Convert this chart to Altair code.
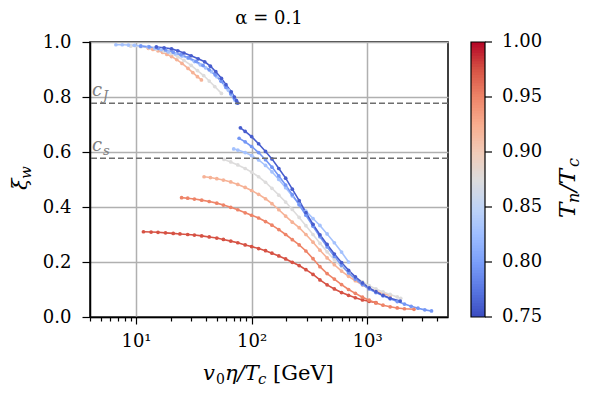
import altair as alt
import pandas as pd

# ---------------- data ----------------
# lower (detonation / hybrid) branch
dr_x = [11.6, 13.5, 15.5, 18, 21, 24, 28, 32, 37, 43, 50, 57, 66, 76, 88, 100, 115, 132, 150, 172,
        197, 225, 258, 295, 340, 390, 450, 520, 600, 690, 790, 910, 1040, 1190]
dr_y = [0.310, 0.309, 0.308, 0.306, 0.304, 0.302, 0.300, 0.298, 0.295, 0.291, 0.287, 0.282, 0.276,
        0.270, 0.262, 0.256, 0.249, 0.241, 0.232, 0.222, 0.211, 0.199, 0.187, 0.172, 0.155, 0.135,
        0.117, 0.102, 0.089, 0.079, 0.070, 0.062, 0.057, 0.052]
sa_x = [24.8, 28, 32, 37, 43, 50, 57, 66, 76, 88, 100, 115, 132, 150, 172, 197, 225, 258, 295, 340,
        390, 450, 520, 600, 690, 790, 910, 1040, 1190, 1370, 1580, 1820, 2100, 2540]
sa_y = [0.434, 0.432, 0.429, 0.425, 0.420, 0.414, 0.407, 0.399, 0.390, 0.379, 0.370, 0.360, 0.347,
        0.334, 0.318, 0.300, 0.281, 0.262, 0.240, 0.212, 0.183, 0.158, 0.138, 0.118, 0.100, 0.086,
        0.072, 0.061, 0.051, 0.043, 0.037, 0.033, 0.030, 0.028]
ls_x = [38.8, 44, 50, 57, 66, 76, 88, 100, 115, 132, 150, 172, 197, 225, 258, 295, 340, 390, 450, 520,
        600, 690, 790, 910, 1040, 1190, 1370, 1580]
ls_y = [0.510, 0.507, 0.503, 0.498, 0.491, 0.482, 0.471, 0.460, 0.446, 0.430, 0.412, 0.390, 0.367,
        0.345, 0.325, 0.300, 0.272, 0.243, 0.215, 0.190, 0.167, 0.148, 0.132, 0.117, 0.104, 0.094,
        0.085, 0.078]
gr_x = [57.7, 66, 76, 88, 100, 115, 132, 150, 172, 197, 225, 258, 295, 340, 390, 450, 520, 600, 690,
        790, 910, 1040, 1190, 1370, 1580, 1820, 1950]
gr_y = [0.573, 0.564, 0.553, 0.540, 0.527, 0.510, 0.490, 0.468, 0.443, 0.418, 0.391, 0.362, 0.332,
        0.300, 0.268, 0.237, 0.208, 0.183, 0.162, 0.144, 0.128, 0.114, 0.102, 0.091, 0.082, 0.073, 0.068]
lb_x = [70, 76, 88, 100, 115, 132, 150, 172, 197, 225, 258, 295, 340, 390, 450, 520, 600, 690]
lb_y = [0.611, 0.607, 0.598, 0.587, 0.571, 0.551, 0.528, 0.500, 0.470, 0.440, 0.410, 0.385, 0.358,
        0.333, 0.302, 0.270, 0.236, 0.200]
mb_x = [78, 88, 100, 115, 132, 150, 172, 197, 225, 258, 295, 340, 390, 450, 520, 600, 690, 790, 910,
        1040, 1190, 1370, 1580, 1820, 2100, 2400, 2750, 3150, 3600]
mb_y = [0.650, 0.637, 0.620, 0.598, 0.572, 0.545, 0.513, 0.480, 0.445, 0.408, 0.370, 0.330, 0.292,
        0.255, 0.220, 0.188, 0.160, 0.138, 0.118, 0.102, 0.089, 0.077, 0.066, 0.056, 0.047, 0.039,
        0.032, 0.026, 0.022]
db_x = [80, 88, 100, 115, 132, 150, 172, 197, 225, 258, 295, 340, 390, 450, 520, 600, 690, 790, 910,
        1040, 1190, 1370, 1580, 1930]
db_y = [0.688, 0.675, 0.656, 0.630, 0.602, 0.575, 0.540, 0.505, 0.465, 0.423, 0.380, 0.337, 0.299,
        0.264, 0.229, 0.198, 0.170, 0.146, 0.124, 0.106, 0.092, 0.079, 0.068, 0.058]
# upper (deflagration) branch
u_ls_x = [12.8, 14, 15.5, 17, 18.5, 20.3, 22.5, 25, 28.2, 31, 34, 36.8]
u_ls_y = [0.977, 0.973, 0.968, 0.962, 0.955, 0.947, 0.936, 0.922, 0.904, 0.889, 0.874, 0.862]
u_gr_x = [9, 11, 13, 15, 17.5, 20, 23, 26, 30, 34, 38.5, 43, 48, 54.8]
u_gr_y = [0.985, 0.983, 0.979, 0.974, 0.966, 0.958, 0.946, 0.933, 0.915, 0.896, 0.878, 0.858, 0.838, 0.813]
u_lb_x = [6.7, 7.6, 8.6, 9.7, 11, 12.8, 14.5, 16.5, 19, 22, 25, 28.2, 32, 36, 40, 45, 50, 54, 58.5,
          63, 67, 71.5, 74]
u_lb_y = [0.990, 0.990, 0.989, 0.988, 0.986, 0.983, 0.978, 0.972, 0.964, 0.957, 0.949, 0.941, 0.929,
          0.917, 0.906, 0.892, 0.874, 0.860, 0.844, 0.825, 0.807, 0.789, 0.778]
u_mb_x = [11, 13, 15.5, 18, 21, 24.5, 28.5, 33, 38, 43, 48.5, 54.5, 60, 66, 71, 75]
u_mb_y = [0.985, 0.982, 0.977, 0.971, 0.963, 0.954, 0.943, 0.930, 0.915, 0.899, 0.880, 0.857, 0.835,
          0.812, 0.795, 0.780]
u_db_x = [15, 17.5, 20.3, 23, 26, 30, 34.5, 39.3, 44, 49, 54.8, 60, 66.7, 71, 74, 76]
u_db_y = [0.982, 0.979, 0.975, 0.968, 0.960, 0.950, 0.939, 0.928, 0.912, 0.892, 0.868, 0.845, 0.819,
          0.800, 0.787, 0.778]

# Tn/Tc of each curve
curves = [
    ("lo_0.975", 0.975, dr_x, dr_y),
    ("lo_0.95", 0.95, sa_x, sa_y),
    ("lo_0.92", 0.92, ls_x, ls_y),
    ("up_0.92", 0.92, u_ls_x, u_ls_y),
    ("lo_0.875", 0.875, gr_x, gr_y),
    ("up_0.875", 0.875, u_gr_x, u_gr_y),
    ("lo_0.83", 0.83, lb_x, lb_y),
    ("up_0.83", 0.83, u_lb_x, u_lb_y),
    ("lo_0.795", 0.795, mb_x, mb_y),
    ("up_0.795", 0.795, u_mb_x, u_mb_y),
    ("lo_0.76", 0.76, db_x, db_y),
    ("up_0.76", 0.76, u_db_x, u_db_y),
]

speed_vals = [0.777, 0.577]          # c_J, c_s
speed_main = ["c", "c"]
speed_sub = ["J", "s"]

x_major = [10, 100, 1000]
x_ticks = [4, 5, 6, 7, 8, 9, 10, 20, 30, 40, 50, 60, 70, 80, 90, 100, 200, 300, 400, 500, 600, 700,
           800, 900, 1000, 2000, 3000, 4000]
y_ticks = [0.0, 0.2, 0.4, 0.6, 0.8, 1.0]
cbar_ticks = [0.75, 0.80, 0.85, 0.90, 0.95, 1.00]
cbar_labels = ["0.75", "0.80", "0.85", "0.90", "0.95", "1.00"]
coolwarm = ["#3b4cc0", "#5977e3", "#7b9ff9", "#9ebeff", "#c0d4f5", "#dddcdc",
            "#f2cbb7", "#f7ac8e", "#ee8468", "#d65244", "#b40426"]
TN_MIN, TN_MAX = 0.75, 1.0

title_text = ["α = 0.1"]
xtitle_parts = ["v", "0", "η/T", "c", "[GeV]"]
ytitle_parts = ["ξ", "w"]
ctitle_parts = ["T", "n", "/T", "c"]

FONT = "DejaVu Serif"
W, H = 358, 275
CB_X0, CB_W = W + 23, 14

rows = []
for name, tn, xs, ys in curves:
    for i, (a, b) in enumerate(zip(xs, ys)):
        rows.append({"curve": name, "Tn": tn, "x": a, "xi": b, "i": i})
df = pd.DataFrame(rows)

major_test = " || ".join(f"datum.value == {m}" for m in x_major)

x_enc = alt.X(
    "x:Q",
    scale=alt.Scale(type="log", domain=[4, 5000], nice=False),
    axis=alt.Axis(
        values=x_ticks, title=None,
        labelExpr="datum.value == 10 ? '10¹' : datum.value == 100 ? '10²' : datum.value == 1000 ? '10³' : ''",
        tickSize={"condition": {"test": major_test, "value": 7}, "value": 4},
        gridOpacity={"condition": {"test": major_test, "value": 1}, "value": 0},
        labelFont=FONT, labelFontSize=18, labelColor="black", labelPadding=8,
        labelFlush=False, labelOverlap=False,
        tickColor="black", tickWidth=1.2, domainColor="black", domainWidth=1.5,
        gridColor="#b0b0b0", gridWidth=1.5,
    ),
)
y_enc = alt.Y(
    "xi:Q",
    scale=alt.Scale(domain=[0, 1], nice=False),
    axis=alt.Axis(
        values=y_ticks, format=".1f", title=None,
        labelFont=FONT, labelFontSize=18, labelColor="black", labelPadding=11,
        tickSize=8, tickColor="black", tickWidth=1.2, domainColor="black", domainWidth=1.5,
        gridColor="#b0b0b0", gridWidth=1.5,
    ),
)
color_scale = alt.Scale(domain=[TN_MIN, TN_MAX], range=coolwarm, interpolate="rgb")

lines = alt.Chart(df).mark_line(strokeWidth=1.6).encode(
    x=x_enc, y=y_enc,
    color=alt.Color("Tn:Q", scale=color_scale, legend=None),
    detail="curve:N", order="i:Q",
)
points = alt.Chart(df).mark_circle(size=14, opacity=1).encode(
    x="x:Q", y="xi:Q", color=alt.Color("Tn:Q", scale=color_scale, legend=None)
)

speed_df = pd.DataFrame({"v": speed_vals, "m": speed_main, "s": speed_sub})
rules = alt.Chart(speed_df).mark_rule(
    color="#6e6e6e", strokeWidth=1.5, strokeDash=[6, 3]
).encode(y="v:Q")
lab_main = alt.Chart(speed_df).mark_text(
    font=FONT, fontSize=18, fontStyle="italic", color="#808080", align="left", dy=-7, baseline="alphabetic"
).encode(y="v:Q", x=alt.value(2), text="m:N")
lab_sub = alt.Chart(speed_df).mark_text(
    font=FONT, fontSize=13, fontStyle="italic", color="#808080", align="left", dy=-3, baseline="alphabetic"
).encode(y="v:Q", x=alt.value(13), text="s:N")

# ---- colour bar (drawn with the same colour scale) ----
STEP = 0.0025
cb_strip = alt.Chart(alt.sequence(TN_MIN, TN_MAX - STEP / 2, STEP, as_="t")).transform_calculate(
    p=f"(datum.t - {TN_MIN}) / ({TN_MAX} - {TN_MIN})",
    p2=f"min(1, (datum.t + {STEP} * 1.6 - {TN_MIN}) / ({TN_MAX} - {TN_MIN}))",
    c=f"datum.t + {STEP} / 2",
).mark_rect(strokeWidth=0).encode(
    x=alt.value(CB_X0), x2=alt.value(CB_X0 + CB_W), y="p:Q", y2="p2:Q",
    color=alt.Color("c:Q", scale=color_scale, legend=None),
)
cb_frame = alt.Chart(pd.DataFrame({"a": [0]})).mark_rect(
    fillOpacity=0, stroke="black", strokeWidth=1.2
).encode(x=alt.value(CB_X0), x2=alt.value(CB_X0 + CB_W), y=alt.value(0), y2=alt.value(H))

cb_df = pd.DataFrame({"t": cbar_ticks, "lab": cbar_labels})
cb_ticks = alt.Chart(cb_df).transform_calculate(
    pos=f"(datum.t - {TN_MIN}) / ({TN_MAX} - {TN_MIN})"
).mark_rule(color="black", strokeWidth=1.2).encode(
    y="pos:Q", x=alt.value(CB_X0 + CB_W), x2=alt.value(CB_X0 + CB_W + 7)
)
cb_labels = alt.Chart(cb_df).transform_calculate(
    pos=f"(datum.t - {TN_MIN}) / ({TN_MAX} - {TN_MIN})"
).mark_text(font=FONT, fontSize=18, color="black", align="left", baseline="middle").encode(
    y="pos:Q", x=alt.value(CB_X0 + CB_W + 17), text="lab:N"
)


def txt(s, x, y, size, style="normal", angle=0, align="left"):
    return alt.Chart(pd.DataFrame({"t": [s]})).mark_text(
        font=FONT, fontSize=size, fontStyle=style, color="black", align=align,
        baseline="alphabetic", angle=angle
    ).encode(text="t:N", x=alt.value(x), y=alt.value(y))


texts = [
    txt(title_text[0], W / 2, -18, 18, align="center"),
    txt(xtitle_parts[0], 113, 338, 21, "italic"),
    txt(xtitle_parts[1], 126, 342, 14),
    txt(xtitle_parts[2], 135, 338, 21, "italic"),
    txt(xtitle_parts[3], 168, 342, 15, "italic"),
    txt(xtitle_parts[4], 183, 338, 21),
    txt(ytitle_parts[0], -63, 148, 21, "italic", angle=270),
    txt(ytitle_parts[1], -59, 137, 15, "italic", angle=270),
    txt(ctitle_parts[0], 485, 176, 23, "italic", angle=270),
    txt(ctitle_parts[1], 489, 161, 16, "italic", angle=270),
    txt(ctitle_parts[2], 485, 150, 23, "italic", angle=270),
    txt(ctitle_parts[3], 489, 125, 16, "italic", angle=270),
]

chart = alt.layer(
    lines, points, rules, lab_main, lab_sub, cb_strip, cb_frame, cb_ticks, cb_labels, *texts
).properties(
    width=W, height=H,
    padding={"left": 82, "top": 34, "right": 134, "bottom": 71},
    autosize=alt.AutoSizeParams(type="none"),
).configure_view(stroke="black", strokeWidth=1.5)

chart.save("out.html", embed_options={"renderer": "svg", "actions": False})
